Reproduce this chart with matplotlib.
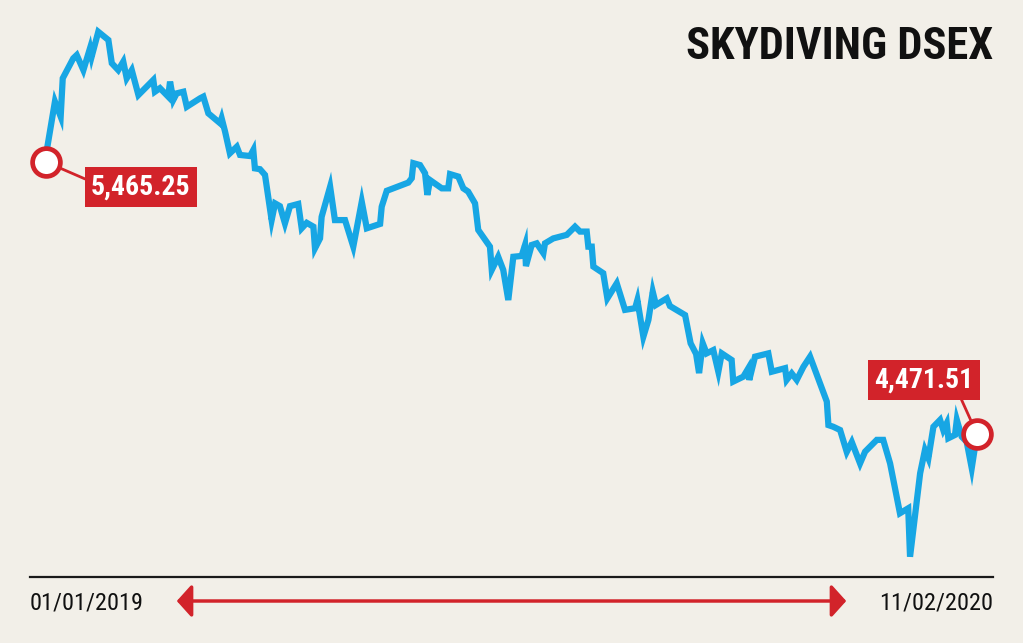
import matplotlib
matplotlib.use('Agg')
import matplotlib.pyplot as plt
from matplotlib import font_manager
from matplotlib.lines import Line2D
from matplotlib.patches import FancyArrowPatch

# DSEX index, days counted from 01/01/2019
day = [0.0, 0.6, 3.9, 6.4, 7.3, 11.9, 13.4, 16.3, 19.2, 19.9, 22.8, 27.2, 28.7, 31.5, 33.7,
       35.2, 37.4, 40.3, 46.8, 47.5, 49.7, 53.3, 54.1, 55.5, 57.0, 59.9, 61.4, 67.2, 68.6,
       70.8, 75.9, 76.6, 78.1, 80.2, 83.2, 84.6, 89.0, 90.4, 91.1, 93.3, 95.5, 98.4, 99.9,
       102.0, 104.2, 106.4, 110.0, 111.5, 113.7, 116.6, 117.3, 119.5, 120.2, 123.9, 126.0,
       130.4, 134.0, 137.7, 139.9, 145.7, 146.4, 148.6, 158.0, 159.5, 160.2, 163.1, 165.3,
       166.3, 167.5, 172.6, 175.4, 176.2, 179.8, 182.0, 184.1, 187.1, 188.5, 193.6, 194.4,
       197.2, 199.4, 201.6, 203.8, 207.4, 208.9, 209.3, 211.8, 214.0, 216.9, 217.6, 221.2,
       227.1, 230.7, 232.9, 235.8, 236.5, 238.0, 238.7, 243.0, 244.8, 248.9, 252.5, 256.9,
       257.9, 260.5, 262.7, 264.6, 266.0, 270.7, 272.1, 278.7, 281.1, 283.5, 284.8, 286.4,
       288.1, 291.0, 293.2, 294.7, 299.0, 299.7, 304.1, 306.3, 306.7, 309.2, 315.0, 316.5,
       322.3, 323.0, 325.2, 327.4, 330.3, 333.2, 340.5, 341.2, 343.3, 346.3, 349.2, 351.4,
       355.0, 357.2, 362.3, 365.1, 368.1, 372.4, 376.0, 376.8, 381.2, 383.3, 384.8, 387.0,
       389.9, 391.3, 392.8, 393.5, 396.4, 397.2, 399.3, 401.5, 403.7, 406.0]
dsex = [5465.25, 5521, 5686, 5631, 5771, 5844, 5856, 5801, 5881, 5850, 5941, 5911, 5826, 5801,
        5832, 5771, 5801, 5710, 5765, 5722, 5735, 5704, 5759, 5692, 5716, 5722, 5667, 5698,
        5704, 5643, 5607, 5625, 5576, 5497, 5521, 5491, 5487, 5509, 5442, 5439, 5418, 5253,
        5314, 5304, 5241, 5304, 5312, 5223, 5243, 5229, 5150, 5186, 5265, 5375, 5253, 5253,
        5156, 5320, 5223, 5239, 5302, 5360, 5390, 5406, 5461, 5454, 5424, 5345, 5399, 5369,
        5369, 5421, 5412, 5369, 5357, 5314, 5217, 5156, 5071, 5119, 5071, 4961, 5119, 5122,
        5162, 5085, 5162, 5168, 5132, 5168, 5186, 5199, 5229, 5211, 5211, 5156, 5156, 5083,
        5059, 4967, 5022, 4925, 4931, 4961, 4827, 4888, 4991, 4943, 4967, 4939, 4906, 4803,
        4764, 4694, 4803, 4766, 4778, 4699, 4766, 4742, 4663, 4681, 4712, 4669, 4754, 4766,
        4699, 4712, 4669, 4693, 4669, 4717, 4754, 4590, 4504, 4498, 4486, 4406, 4442, 4364,
        4407, 4450, 4450, 4364, 4182, 4200, 4023, 4328, 4413, 4383, 4498, 4523, 4486, 4511,
        4456, 4468, 4523, 4462, 4443, 4347, 4471.51]

title = 'SKYDIVING DSEX'
start_label = '01/01/2019'
end_label = '11/02/2020'

BG = '#f2efe8'
BLUE = '#17a6e4'
RED = '#d2232a'

names = {f.name for f in font_manager.fontManager.ttflist}
narrow = None
for n in ['Liberation Sans Narrow', 'Roboto Condensed', 'Open Sans Condensed']:
    if n in names:
        narrow = n
        break
if narrow is None:
    narrow = 'Liberation Sans'
plt.rcParams['font.family'] = [narrow, 'DejaVu Sans']

W, H = 1023, 643
fig = plt.figure(figsize=(W / 100, H / 100), dpi=100, facecolor=BG)
ax = fig.add_axes([0, 0, 1, 1])
ax.set_facecolor(BG)
ax.set_xlim(-20.06, 426.06)
ax.set_ylim(3707.9, 6057.1)
ax.axis('off')

def fx(px):
    return px / W

def fy(py):
    return 1 - py / H

ax.plot(day, dsex, color=BLUE, lw=4.5, solid_joinstyle='miter', zorder=3)

# start / end callouts
box = dict(boxstyle='square,pad=0.22', fc=RED, ec='none')
ax.annotate(f'{dsex[0]:,.2f}', xy=(day[0], dsex[0]), xytext=(fx(141), fy(187)),
            textcoords='figure fraction', ha='center', va='center', color='white',
            fontsize=20, fontweight='bold', bbox=box, zorder=4,
            arrowprops=dict(arrowstyle='-', color=RED, lw=2, relpos=(0, 0.7),
                            shrinkA=0, shrinkB=0))
ax.annotate(f'{dsex[-1]:,.2f}', xy=(day[-1], dsex[-1]), xytext=(fx(924), fy(380)),
            textcoords='figure fraction', ha='center', va='center', color='white',
            fontsize=20, fontweight='bold', bbox=box, zorder=4,
            arrowprops=dict(arrowstyle='-', color=RED, lw=2, relpos=(0.85, 0),
                            shrinkA=0, shrinkB=0))
ax.plot([day[0], day[-1]], [dsex[0], dsex[-1]], ls='none', marker='o', ms=20,
        mfc='white', mec=RED, mew=3.4, zorder=5)

fig.text(fx(993), fy(47), title, ha='right', va='center', fontsize=32,
         fontweight='bold', color='#111111')

fig.add_artist(Line2D([fx(30), fx(993)], [fy(577), fy(577)], color='#1a1a1a', lw=1.6))
fig.text(fx(30), fy(603), start_label, ha='left', va='center', fontsize=17.5, color='#111111')
fig.text(fx(993), fy(603), end_label, ha='right', va='center', fontsize=17.5, color='#111111')
fig.add_artist(FancyArrowPatch((fx(174), fy(601)), (fx(849), fy(601)),
                               transform=fig.transFigure,
                               arrowstyle='<|-|>,head_length=0.45,head_width=0.5',
                               mutation_scale=20, lw=2.5, color=RED))

fig.savefig('out.png', dpi=100, facecolor=BG)
